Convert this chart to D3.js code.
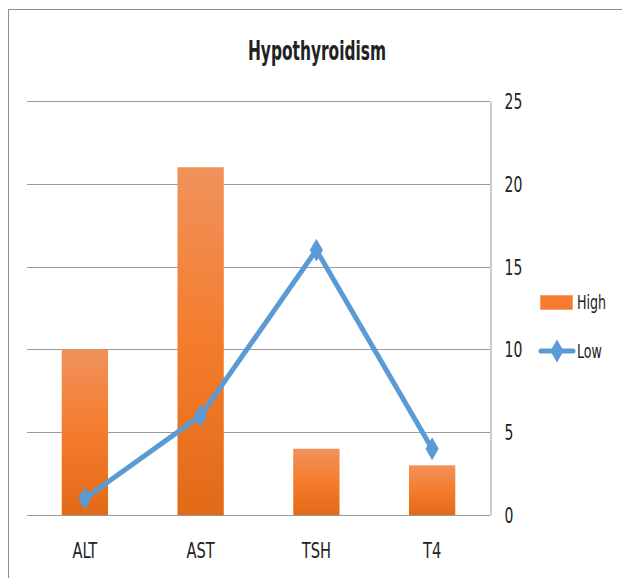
<!DOCTYPE html>
<html>
<head>
<meta charset="utf-8">
<script src="https://d3js.org/d3.v7.min.js"></script>
<style>
  body { margin: 0; background: #fff; }
  svg text { font-family: "DejaVu Sans Condensed", "DejaVu Sans", sans-serif; fill: #222; }
</style>
</head>
<body>
<div id="chart"></div>
<script>
  // data
  var categories = ["ALT", "AST", "TSH", "T4"];
  var highValues = [10, 21, 4, 3];
  var lowValues = [1, 6, 16, 4];
  var yTicks = [0, 5, 10, 15, 20, 25];
  var seriesNames = ["High", "Low"];

  var width = 622, height = 578;
  var plot = {left: 27, right: 490, top: 101, bottom: 515};
  var squeeze = 0.74; // text in the picture is tall and narrow

  var svg = d3.select("#chart").append("svg")
      .attr("width", width)
      .attr("height", height);

  // narrow text helper
  function label(g, tx, ty, str, size, anchor) {
    return g.append("text")
        .attr("transform", "translate(" + tx + "," + ty + ") scale(" + squeeze + ",1)")
        .attr("text-anchor", anchor || "start")
        .style("font-size", size + "px")
        .text(str);
  }

  // gradient for bars
  var grad = svg.append("defs").append("linearGradient")
      .attr("id", "barGrad").attr("x1", 0).attr("y1", 0).attr("x2", 0).attr("y2", 1);
  grad.append("stop").attr("offset", "0%").attr("stop-color", "#f0925c");
  grad.append("stop").attr("offset", "50%").attr("stop-color", "#f47c2c");
  grad.append("stop").attr("offset", "100%").attr("stop-color", "#e26a17");

  // outer frame
  svg.append("rect")
      .attr("x", 8.5).attr("y", 9.5)
      .attr("width", 800).attr("height", 800)
      .attr("fill", "none").attr("stroke", "#8c8c8c").attr("stroke-width", 1);

  var x = d3.scaleBand()
      .domain(categories)
      .range([plot.left, plot.right])
      .paddingInner(0.6)
      .paddingOuter(0.3);

  var y = d3.scaleLinear()
      .domain([0, 25])
      .range([plot.bottom, plot.top]);

  // gridlines
  svg.append("g")
    .selectAll("line")
    .data(yTicks)
    .enter().append("line")
      .attr("x1", plot.left).attr("x2", plot.right)
      .attr("y1", function(d) { return Math.round(y(d)) + 0.5; })
      .attr("y2", function(d) { return Math.round(y(d)) + 0.5; })
      .attr("stroke", "#9a9a9a").attr("stroke-width", 1);

  // right axis
  var axis = svg.append("g")
      .attr("transform", "translate(" + (plot.right + 0.5) + ",0)")
      .call(d3.axisRight(y).tickValues(yTicks).tickSize(0));
  axis.select(".domain").attr("stroke", "#9a9a9a");
  axis.selectAll("text")
      .attr("x", 0)
      .attr("dy", "0.36em")
      .attr("transform", "translate(14,0) scale(" + squeeze + ",1)")
      .style("font-size", "21px")
      .attr("fill", "#222");

  // bars
  svg.append("g")
    .selectAll("rect")
    .data(highValues)
    .enter().append("rect")
      .attr("x", function(d, i) { return x(categories[i]); })
      .attr("y", function(d) { return y(d); })
      .attr("width", x.bandwidth())
      .attr("height", function(d) { return y(0) - y(d); })
      .attr("fill", "url(#barGrad)");

  // line
  var line = d3.line()
      .x(function(d, i) { return x(categories[i]) + x.bandwidth() / 2; })
      .y(function(d) { return y(d); });

  svg.append("path")
      .datum(lowValues)
      .attr("d", line)
      .attr("fill", "none")
      .attr("stroke", "#5a9bd5")
      .attr("stroke-width", 5)
      .attr("stroke-linejoin", "round");

  var diamond = d3.symbol().type(d3.symbolDiamond).size(150);
  svg.append("g")
    .selectAll("path")
    .data(lowValues)
    .enter().append("path")
      .attr("d", diamond)
      .attr("transform", function(d, i) {
        return "translate(" + (x(categories[i]) + x.bandwidth() / 2) + "," + y(d) + ")";
      })
      .attr("fill", "#5a9bd5");

  // x labels
  var xl = svg.append("g");
  categories.forEach(function(c) {
    label(xl, x(c) + x.bandwidth() / 2, 558, c, 22, "middle");
  });

  // title
  label(svg, 317, 60, "Hypothyroidism", 26, "middle")
      .style("font-weight", "bold")
      .attr("transform", "translate(317,60) scale(0.66,1)");

  // legend
  var legend = svg.append("g");
  legend.append("rect")
      .attr("x", 540.5).attr("y", 295.5)
      .attr("width", 32).attr("height", 14)
      .attr("fill", "#f47c2c").attr("stroke", "#f4a070");
  label(legend, 577, 309, seriesNames[0], 19);
  legend.append("line")
      .attr("x1", 541).attr("x2", 573)
      .attr("y1", 351).attr("y2", 351)
      .attr("stroke", "#5a9bd5").attr("stroke-width", 5)
      .attr("stroke-linecap", "round");
  legend.append("path")
      .attr("d", diamond)
      .attr("transform", "translate(557,351)")
      .attr("fill", "#5a9bd5");
  label(legend, 577, 358, seriesNames[1], 19);
</script>
</body>
</html>
